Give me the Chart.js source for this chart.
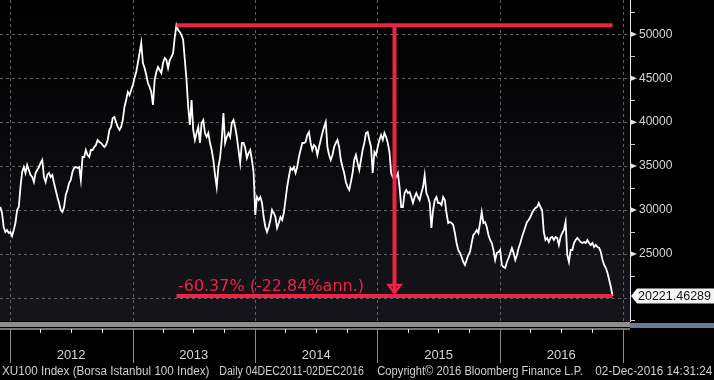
<!DOCTYPE html>
<html><head><meta charset="utf-8">
<script src="https://cdn.jsdelivr.net/npm/chart.js@4.4.1/dist/chart.umd.min.js"></script>
<style>html,body{margin:0;padding:0;background:#000;overflow:hidden}</style>
</head><body>
<canvas id="c" width="714" height="380"></canvas>
<script>
// ---------- DATA ----------
const startDate = '2011-12-04';
const sampleStepDays = 5;
const closes = [
30346,29664,28070,27501,27729,27388,27501,27046,27729,28526,30005,30346,32622,34329,34899,34216,35126,34557,33988,33760,
33191,34216,34557,34899,35354,35695,33760,33191,33988,34216,33760,33988,33078,32281,31484,30801,30005,29777,30346,31712,
32281,33078,33419,34329,34785,34899,34785,34899,33419,36036,36036,36833,36264,36036,36833,36833,37174,37402,37971,37743,
37630,37402,37174,37402,37971,39109,39450,40475,40588,40019,39450,39109,39450,40247,41727,42523,43433,43092,43661,44230,
45027,45709,46734,47872,49010,46734,46165,45368,44458,44002,43433,41954,44799,45709,46278,45937,45596,46734,47303,47075,
46165,47075,47416,47872,49693,51025,50489,50261,49920,49351,47075,44799,41727,39678,42523,39109,37971,38768,39450,37630,
39906,40247,38768,38312,38768,37630,36833,35695,33988,32622,34899,35923,37971,41044,37630,38312,38768,38312,39906,40247,
39450,38312,36833,35354,37630,37630,37060,35923,36492,36833,35695,34216,29436,31484,31143,31484,30801,29208,28070,27501,
28070,28867,30005,29664,29208,27957,28526,29208,28867,29664,31143,32622,33760,34785,34557,34899,34216,34899,36036,36833,
37630,37630,37743,38540,38881,37630,36833,37402,37174,36264,37174,37971,38768,39450,40019,37174,36264,35695,36264,37174,
37630,37971,37174,35695,34899,34216,33191,32622,32281,33191,34216,35695,36264,35354,34557,35695,36833,37630,38768,38881,
37971,37174,34216,36605,36264,37174,37971,38540,37971,38768,38312,37630,36605,34216,33760,33419,33760,34216,32622,
30346,30346,31940,32281,31940,32053,31484,30801,31484,31940,31484,31143,31940,32622,33988,31940,31484,30801,27957,30005,
31143,31484,30801,30801,30574,31484,31143,29664,28526,28639,28526,28298,27388,26250,25453,25112,24656,24087,23746,24315,
24884,25225,26250,27160,27388,27729,27388,28526,29777,28526,28639,28070,27160,26591,26250,25453,24315,25112,25225,25453,
23746,23518,23405,24087,24543,25112,25681,25112,24315,24884,25681,26250,26932,27501,28070,28639,28867,29208,29664,30005,
30233,30346,30801,30346,30005,27501,26591,26819,26363,26819,26932,26591,26932,26819,26022,26932,27388,27729,28639,24884,
24087,25453,25453,26250,26591,26819,26591,26363,26250,26363,26250,26591,26250,26022,26250,25794,26022,25794,25681,25225,
24315,23746,23405,22836,22039,21243,20221.46289
];
const yearLabels = ['2012','2013','2014','2015','2016'];
const yearStarts = ['2012-01-01','2013-01-01','2014-01-01','2015-01-01','2016-01-01','2017-01-01'];
const quarterMonths = ['04','07','10'];
const yLabelTicks = [25000,30000,35000,40000,45000,50000];
const yGridTicks = [20000,25000,30000,35000,40000,45000,50000];
const yMinorTicks = [17500,22500,27500,32500,37500,42500,47500,52500];
const lastValueLabel = '20221.46289';
const changeLabel = '-60.37% (-22.84%ann.)';
const footerParts = ['XU100 Index (Borsa Istanbul 100 Index)','Daily 04DEC2011-02DEC2016','Copyright\u00a9 2016 Bloomberg Finance L.P.','02-Dec-2016 14:31:24'];

// ---------- derived ----------
const DAY0 = Date.parse(startDate + 'T00:00:00Z');
const dayOf = s => Math.round((Date.parse(s + 'T00:00:00Z') - DAY0) / 86400000);
const points = closes.map((v, i) => ({x: i * sampleStepDays, y: v}));
const yearStartDays = yearStarts.map(dayOf);
const yearMidDays = yearLabels.map((_, i) => (yearStartDays[i] + yearStartDays[i + 1]) / 2);
const quarterDays = [];
yearLabels.forEach(y => quarterMonths.forEach(m => quarterDays.push(dayOf(y + '-' + m + '-01'))));

const RED = '#ee2346';
const FONT = "'Liberation Sans', Arial, sans-serif";
const WIDE = "'DejaVu Sans', Verdana, sans-serif";

function fitText(ctx, text, x, y, w, font, color) {
  ctx.save();
  ctx.font = font; ctx.fillStyle = color; ctx.textBaseline = 'alphabetic'; ctx.textAlign = 'left';
  const m = ctx.measureText(text).width;
  ctx.translate(x, y); ctx.scale(w / m, 1);
  ctx.fillText(text, 0, 0);
  ctx.restore();
}

const bgPlugin = {
  id: 'bg',
  beforeDraw(chart) {
    const {ctx, chartArea: a} = chart;
    ctx.save();
    ctx.fillStyle = '#000';
    ctx.fillRect(0, 0, chart.width, chart.height);
    const g = ctx.createLinearGradient(0, a.top, 0, a.bottom);
    g.addColorStop(0, '#000000'); g.addColorStop(1, '#15151b');
    ctx.fillStyle = g;
    ctx.fillRect(a.left, a.top, a.right - a.left, a.bottom - a.top);
    ctx.restore();
  },
  beforeDatasetsDraw(chart) {
    const {ctx, chartArea: a, scales: {x, y}} = chart;
    ctx.save();
    ctx.strokeStyle = '#606060'; ctx.lineWidth = 1; ctx.setLineDash([3, 3]);
    yearStartDays.forEach(d => {
      const px = Math.round(x.getPixelForValue(d)) + 0.5;
      ctx.beginPath(); ctx.moveTo(px, a.top); ctx.lineTo(px, a.bottom); ctx.stroke();
    });
    yGridTicks.forEach(v => {
      const py = Math.round(y.getPixelForValue(v)) + 0.5;
      ctx.beginPath(); ctx.moveTo(a.left, py); ctx.lineTo(a.right, py); ctx.stroke();
    });
    ctx.restore();
  },
  afterDraw(chart) {
    const {ctx, chartArea: a, scales: {x, y}} = chart;
    ctx.save();
    // ---- annotation (max -> last)
    let maxIdx = 0;
    points.forEach((p, i) => { if (p.y > points[maxIdx].y) maxIdx = i; });
    const lastIdx = points.length - 1;
    const x1 = x.getPixelForValue(points[maxIdx].x);
    const x2 = x.getPixelForValue(points[lastIdx].x);
    const yTop = y.getPixelForValue(points[maxIdx].y);
    const yBot = y.getPixelForValue(points[lastIdx].y);
    const xm = (x1 + x2) / 2;
    ctx.strokeStyle = RED; ctx.lineWidth = 4; ctx.lineCap = 'butt';
    ctx.beginPath(); ctx.moveTo(x1, yTop); ctx.lineTo(x2, yTop); ctx.stroke();
    ctx.beginPath(); ctx.moveTo(x1, yBot); ctx.lineTo(x2, yBot); ctx.stroke();
    ctx.beginPath(); ctx.moveTo(xm, yTop); ctx.lineTo(xm, yBot - 3); ctx.stroke();
    ctx.lineWidth = 2.5; ctx.lineJoin = 'miter';
    ctx.beginPath(); ctx.moveTo(xm - 6, yBot - 11); ctx.lineTo(xm + 6, yBot - 11); ctx.lineTo(xm, yBot - 3); ctx.closePath(); ctx.stroke();
    // label
    fitText(ctx, changeLabel, x1 + 1.5, yBot - 4.5, 186, '15px ' + WIDE, RED);
    // ---- right axis marks
    ctx.fillStyle = '#e2e2e2';
    yLabelTicks.forEach(v => {
      const py = y.getPixelForValue(v);
      ctx.beginPath(); ctx.moveTo(a.right, py - 3); ctx.lineTo(a.right + 7, py); ctx.lineTo(a.right, py + 3); ctx.closePath(); ctx.fill();
    });
    ctx.strokeStyle = '#d0d0d0'; ctx.lineWidth = 1;
    yMinorTicks.forEach(v => {
      const py = Math.round(y.getPixelForValue(v)) + 0.5;
      ctx.beginPath(); ctx.moveTo(a.right, py); ctx.lineTo(a.right + 5, py); ctx.stroke();
    });
    // ---- last value box
    const yv = yBot;
    ctx.fillStyle = '#f4f4f4';
    ctx.beginPath();
    ctx.moveTo(a.right + 1, yv); ctx.lineTo(a.right + 7, yv - 7.5); ctx.lineTo(714, yv - 7.5);
    ctx.lineTo(714, yv + 7.5); ctx.lineTo(a.right + 7, yv + 7.5); ctx.closePath(); ctx.fill();
    ctx.fillStyle = '#111'; ctx.font = '12.5px ' + FONT; ctx.textBaseline = 'middle';
    ctx.fillText(lastValueLabel, a.right + 8, yv + 0.5);
    // ---- bottom band & time axis line
    ctx.fillStyle = '#8e8e8e'; ctx.fillRect(0, a.bottom + 1, a.right, 5);
    ctx.fillStyle = '#6b7a90'; ctx.fillRect(a.right, a.bottom + 2, 714 - a.right, 5);
    ctx.fillStyle = '#e6e6e6'; ctx.fillRect(0, a.bottom + 7.5, a.right, 1);
    ctx.strokeStyle = '#e6e6e6';
    quarterDays.forEach(d => {
      const px = Math.round(x.getPixelForValue(d)) + 0.5;
      ctx.beginPath(); ctx.moveTo(px, a.bottom + 8); ctx.lineTo(px, a.bottom + 12); ctx.stroke();
    });
    ctx.strokeStyle = '#8a8a8a';
    yearStartDays.forEach(d => {
      const px = Math.round(x.getPixelForValue(d)) + 0.5;
      ctx.beginPath(); ctx.moveTo(px, a.bottom + 8); ctx.lineTo(px, a.bottom + 42); ctx.stroke();
    });
    // ---- footer
    const fpos = [[2, 207.5], [219.3, 144.5], [377.3, 205.5], [595.3, 117]];
    footerParts.forEach((t, i) => fitText(ctx, t, fpos[i][0], 375, fpos[i][1], '12px ' + FONT, '#cfcfcf'));
    ctx.restore();
  }
};

new Chart(document.getElementById('c').getContext('2d'), {
  type: 'line',
  data: { datasets: [{ data: points, borderColor: '#ffffff', borderWidth: 1.8, pointRadius: 0, tension: 0, fill: false }] },
  options: {
    responsive: false, animation: false, devicePixelRatio: 1,
    layout: { padding: 0 },
    plugins: { legend: { display: false }, tooltip: { enabled: false } },
    scales: {
      x: {
        type: 'linear', min: -1, max: 1877,
        afterBuildTicks: s => { s.ticks = [...yearStartDays, ...yearMidDays].sort((a, b) => a - b).map(v => ({value: v})); },
        afterFit: s => { s.height = 59; s.paddingLeft = 0; s.paddingRight = 0; },
        grid: { display: false, drawTicks: false },
        border: { display: false },
        ticks: {
          autoSkip: false, maxRotation: 0, padding: 27, color: '#d4d4d4',
          font: { family: FONT, size: 13 },
          callback: v => { const k = yearMidDays.indexOf(v); return k >= 0 ? yearLabels[k] : ''; }
        }
      },
      y: {
        position: 'right', min: 17373, max: 53903,
        afterBuildTicks: s => { s.ticks = yLabelTicks.map(v => ({value: v})); },
        afterFit: s => { s.width = 84; s.paddingTop = 0; s.paddingBottom = 0; },
        grid: { display: false, drawTicks: false },
        border: { display: true, color: '#e8e8e8', width: 1 },
        ticks: { autoSkip: false, padding: 9, color: '#d8d8d8', font: { family: FONT, size: 12 }, callback: v => String(v) }
      }
    }
  },
  plugins: [bgPlugin]
});
</script>
</body></html>
